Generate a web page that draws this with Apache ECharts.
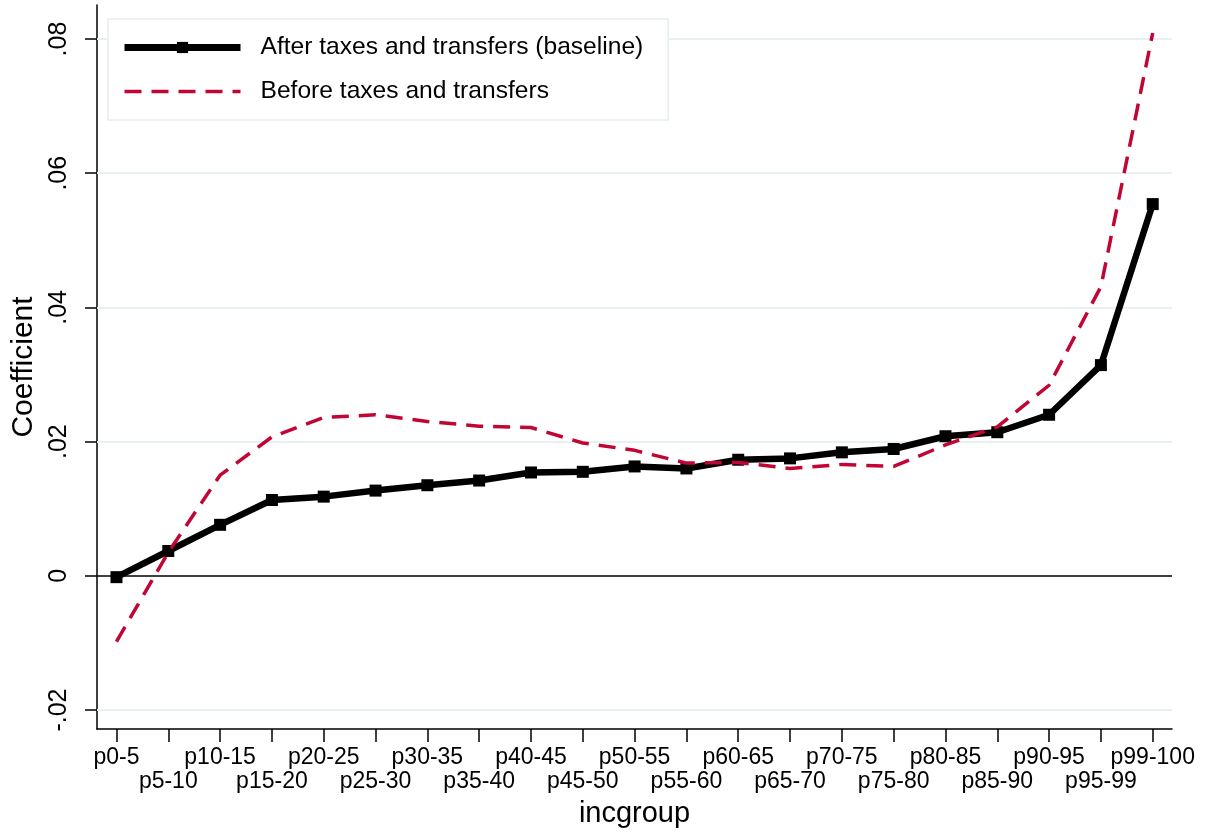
<!DOCTYPE html>
<html>
<head>
<meta charset="utf-8">
<script src="https://cdn.jsdelivr.net/npm/echarts@6/dist/echarts.min.js"></script>
<style>
  html, body { margin: 0; padding: 0; background: #fff; }
  #chart { width: 1209px; height: 833px; }
</style>
</head>
<body>
<div id="chart"></div>
<script>
const categories = ['p0-5', 'p5-10', 'p10-15', 'p15-20', 'p20-25', 'p25-30', 'p30-35',
    'p35-40', 'p40-45', 'p45-50', 'p50-55', 'p55-60', 'p60-65', 'p65-70', 'p70-75',
    'p75-80', 'p80-85', 'p85-90', 'p90-95', 'p95-99', 'p99-100']
const afterTaxes = [-0.0002, 0.0037, 0.0076, 0.0113, 0.0118, 0.0127, 0.0135,
    0.0142, 0.0154, 0.0155, 0.0163, 0.0160, 0.0173, 0.0175, 0.0184,
    0.0189, 0.0208, 0.0214, 0.0240, 0.0314, 0.0554]
const beforeTaxes = [-0.0098, 0.0035, 0.0150, 0.0207, 0.0236, 0.0240, 0.0230,
    0.0223, 0.0221, 0.0198, 0.0187, 0.0168, 0.0169, 0.0160, 0.0166,
    0.0163, 0.0195, 0.0222, 0.0284, 0.0431, 0.0809]
const yTicks = [-0.02, 0, 0.02, 0.04, 0.06, 0.08]
const yTickLabels = ['-.02', '0', '.02', '.04', '.06', '.08']
const seriesNames = ['After taxes and transfers (baseline)', 'Before taxes and transfers']

const font = "'Liberation Sans', Arial, sans-serif"
const xTicks = categories.map((c, i) => i)
// labels alternate between two rows, so each row gets its own axis
const xUpper = xTicks.filter(i => i % 2 === 0)
const xLower = xTicks.filter(i => i % 2 === 1)
const black = '#000', red = '#c10534'

function xAxisFor(labelValues, margin, main) {
    return {
        type: 'value',
        position: 'bottom',
        min: -0.376,
        max: 20.372,
        name: main ? '' : 'incgroup',
        nameLocation: 'middle',
        nameGap: 70,
        nameTextStyle: {fontSize: 29, color: '#000', fontFamily: font},
        axisLine: {show: main, onZero: false, lineStyle: {color: '#000', width: 1.5}},
        axisTick: {show: main, customValues: xTicks, length: 13, lineStyle: {color: '#000', width: 1.5}},
        axisLabel: {
            customValues: labelValues,
            showMinLabel: true,
            showMaxLabel: true,
            hideOverlap: false,
            margin: margin,
            fontSize: 23,
            color: '#000',
            fontFamily: font,
            formatter: v => categories[Math.round(v)]
        },
        splitLine: {show: false}
    }
}

window.onload = () => {
    const chart = echarts.init(document.getElementById('chart'), null, {renderer: 'canvas'})
    const option = {
        backgroundColor: '#fff',
        animation: false,
        textStyle: {fontFamily: font},
        grid: {left: 97, right: 37, top: 5, bottom: 104},
        legend: {
            data: [
                {name: seriesNames[0], lineStyle: {width: 7, color: black}, itemStyle: {color: black}},
                {name: seriesNames[1], lineStyle: {width: 3.5, color: red, type: [17, 10]},
                    itemStyle: {color: 'transparent', opacity: 0}}
            ],
            orient: 'vertical',
            left: 108,
            top: 19,
            itemWidth: 116,
            itemHeight: 14,
            itemGap: 19,
            padding: [16, 25, 16, 13],
            backgroundColor: '#fff',
            borderColor: '#e6eef0',
            borderWidth: 1.5,
            z: 10,
            textStyle: {fontSize: 24.6, color: '#000', fontFamily: font, padding: [0, 0, 0, 15]}
        },
        xAxis: [xAxisFor(xUpper, 17, true), xAxisFor(xLower, 41, false)],
        yAxis: {
            type: 'value',
            min: -0.02283,
            max: 0.08507,
            name: 'Coefficient',
            nameLocation: 'middle',
            nameRotate: 90,
            nameGap: 53,
            nameTextStyle: {fontSize: 30, color: '#000', fontFamily: font},
            axisLine: {show: true, onZero: false, lineStyle: {color: '#000', width: 1.5}},
            axisTick: {show: true, customValues: yTicks, length: 12, lineStyle: {color: '#000', width: 1.5}},
            axisLabel: {
                customValues: yTicks,
                showMinLabel: true,
                showMaxLabel: true,
                rotate: 90,
                margin: 25,
                fontSize: 25,
                color: '#000',
                fontFamily: font,
                formatter: v => yTickLabels[yTicks.findIndex(t => Math.abs(t - v) < 1e-9)]
            },
            splitLine: {show: false}
        },
        series: [
            {
                name: seriesNames[0],
                type: 'line',
                xAxisIndex: 0,
                z: 3,
                data: afterTaxes.map((v, i) => [i, v]),
                symbol: 'rect',
                symbolSize: 12,
                showSymbol: true,
                itemStyle: {color: black},
                lineStyle: {color: black, width: 6.5},
                markLine: {
                    silent: true,
                    symbol: 'none',
                    z: 1,
                    label: {show: false},
                    animation: false,
                    data: yTicks.map(t => ({
                        yAxis: t,
                        lineStyle: t === 0
                            ? {color: '#000', width: 1.5, type: 'solid'}
                            : {color: '#e8f0f2', width: 2, type: 'solid'}
                    }))
                }
            },
            {
                name: seriesNames[1],
                type: 'line',
                xAxisIndex: 0,
                z: 4,
                data: beforeTaxes.map((v, i) => [i, v]),
                symbol: 'none',
                itemStyle: {color: red},
                lineStyle: {color: red, width: 3.5, type: [17, 10]}
            }
        ]
    }
    chart.setOption(option)
}
</script>
</body>
</html>
